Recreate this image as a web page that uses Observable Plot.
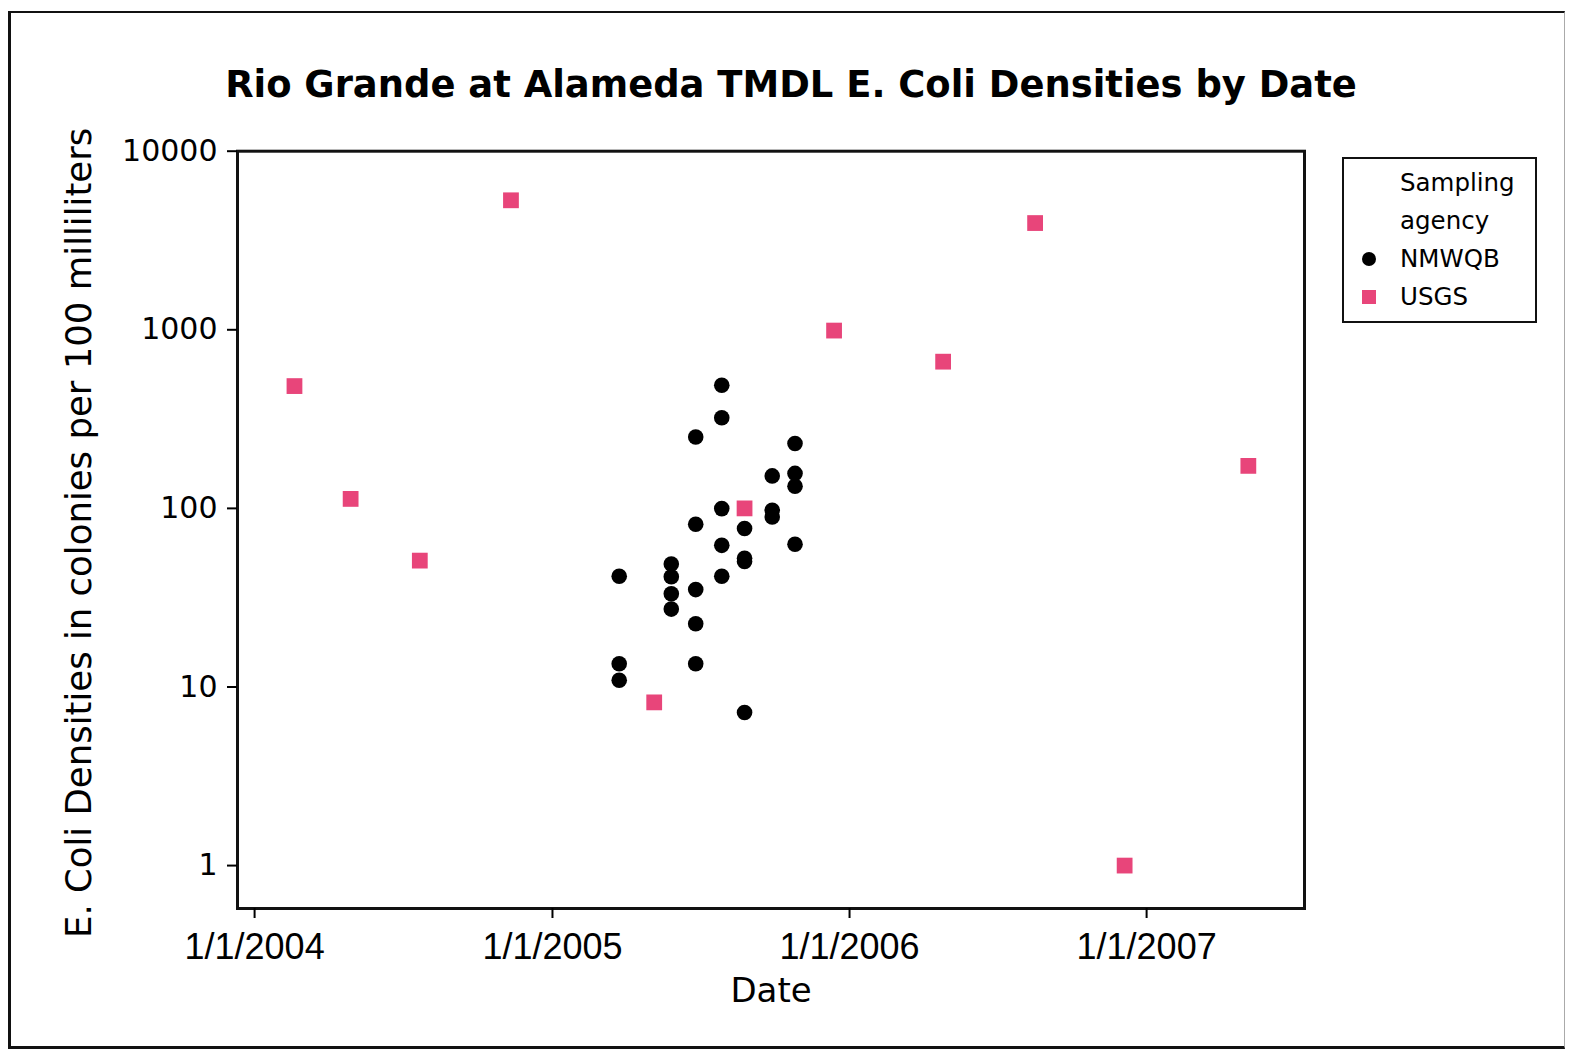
<!DOCTYPE html>
<html>
<head>
<meta charset="utf-8">
<script src="https://cdn.jsdelivr.net/npm/d3@7"></script>
<script src="https://cdn.jsdelivr.net/npm/@observablehq/plot@0.6"></script>
<style>
  html, body { margin: 0; padding: 0; background: #fff; }
  #page { position: relative; width: 1575px; height: 1054px; overflow: hidden; background: #fff; font-family: "DejaVu Sans", sans-serif; }
  #outer { position: absolute; left: 8px; top: 11px; width: 1553px; height: 1033px; z-index: 5; pointer-events: none;
           border-left: 3px solid #111; border-top: 2px solid #111; border-bottom: 3px solid #111; border-right: 1px solid #aaa; }
  #title { position: absolute; left: 0; top: 67px; width: 1582px; text-align: center; z-index: 2;
           font-family: "DejaVu Sans", sans-serif; font-weight: bold; font-size: 36.9px; line-height: 1; color: #000; white-space: nowrap; }
  #chart { position: absolute; left: 0; top: 120px; z-index: 1; }
  #legend { position: absolute; left: 1342px; top: 157px; width: 191px; height: 162px; border: 2px solid #111; background: #fff; z-index: 3; }
  .lg { position: absolute; left: 56px; font-size: 24.5px; line-height: 1; font-family: "DejaVu Sans", sans-serif; color: #000; white-space: nowrap; }
  .mk { position: absolute; }
</style>
</head>
<body>
<div id="page">
  <div id="chart"></div>
  <div id="title"></div>
  <div id="legend"></div>
  <div id="outer"></div>
</div>
<script>
// ---- Data ----
const titleText = "Rio Grande at Alameda TMDL E. Coli Densities by Date";
const xLabelText = "Date";
const yLabelText = "E. Coli Densities in colonies per 100 milliliters";
const legendTitle = ["Sampling", "agency"];
const groups = ["NMWQB", "USGS"];
const groupColors = ["#000000", "#e8457a"];

const yTicks = [1, 10, 100, 1000, 10000];
const xTickDates = ["2004-01-01", "2005-01-01", "2006-01-01", "2007-01-01"];
const xTickLabels = ["1/1/2004", "1/1/2005", "1/1/2006", "1/1/2007"];

const nmwqbDates = [
  "2005-03-24", "2005-03-24", "2005-03-24",
  "2005-05-27", "2005-05-27", "2005-05-27", "2005-05-27",
  "2005-06-26", "2005-06-26", "2005-06-26", "2005-06-26", "2005-06-26",
  "2005-07-28", "2005-07-28", "2005-07-28", "2005-07-28", "2005-07-28",
  "2005-08-25", "2005-08-25", "2005-08-25", "2005-08-25",
  "2005-09-28", "2005-09-28", "2005-09-28",
  "2005-10-26", "2005-10-26", "2005-10-26", "2005-10-26"
];
const nmwqbValues = [
  41.7, 13.5, 10.9,
  48.8, 41.4, 33.3, 27.3,
  251, 81.5, 35.1, 22.6, 13.5,
  489, 322, 99.7, 62.1, 41.7,
  77.1, 52.5, 50.5, 7.2,
  152, 97.6, 89.5,
  231, 157, 133, 63
];

const usgsDates = [
  "2004-02-19", "2004-04-28", "2004-07-22", "2004-11-11",
  "2005-05-06", "2005-08-25", "2005-12-13", "2006-04-26",
  "2006-08-17", "2006-12-05", "2007-05-06"
];
const usgsValues = [
  484, 113, 51, 5310,
  8.2, 100, 990, 663,
  3960, 1.0, 173
];

// ---- Build tables ----
const parse = d3.utcParse("%Y-%m-%d");
const nmwqb = nmwqbDates.map((d, i) => ({date: parse(d), value: nmwqbValues[i], agency: groups[0]}));
const usgs = usgsDates.map((d, i) => ({date: parse(d), value: usgsValues[i], agency: groups[1]}));
const xTicks = xTickDates.map(parse);
const xLabelMap = new Map(xTicks.map((d, i) => [+d, xTickLabels[i]]));

const svgHeight = 934;
const chart = Plot.plot({
  width: 1575,
  height: svgHeight,
  marginLeft: 237,
  marginRight: 271,
  marginTop: 30.7,
  marginBottom: 146,
  style: {fontFamily: "DejaVu Sans", background: "transparent", color: "black", overflow: "visible"},
  x: {type: "utc", domain: [parse("2003-12-11"), parse("2007-07-14")]},
  y: {type: "log", domain: [0.575, 10000]},
  marks: [
    Plot.frame({stroke: "#111", strokeWidth: 3}),
    Plot.axisY({ticks: yTicks, tickFormat: d => String(d), tickSize: 10, tickPadding: 10,
                fontSize: 30, strokeWidth: 2, label: null}),
    Plot.axisX({ticks: xTicks, tickFormat: d => xLabelMap.get(+d), tickSize: 10, tickPadding: 15,
                fontSize: 36, fontFamily: "Liberation Sans", strokeWidth: 2, label: null}),
    Plot.text([xLabelText], {text: d => d, frameAnchor: "bottom", dy: 83, fontSize: 34,
                lineAnchor: "middle", textAnchor: "middle", fill: "black"}),
    Plot.text([yLabelText], {text: d => d, frameAnchor: "left", dx: -158, dy: 3, rotate: -90,
                fontSize: 35.5, lineAnchor: "middle", textAnchor: "middle", fill: "black"}),
    Plot.dot(nmwqb, {x: "date", y: "value", r: 7.8, fill: groupColors[0], stroke: "none", symbol: "circle"}),
    Plot.dot(usgs, {x: "date", y: "value", r: 8.9, fill: groupColors[1], stroke: "none", symbol: "square"})
  ]
});
document.getElementById("chart").appendChild(chart);

document.getElementById("title").textContent = titleText;

// ---- Legend (HTML) ----
const legend = document.getElementById("legend");
const rowCenters = [24, 62, 100, 138];
legendTitle.forEach((t, i) => {
  const el = document.createElement("div");
  el.className = "lg";
  el.style.top = (rowCenters[i] - 12) + "px";
  el.textContent = t;
  legend.appendChild(el);
});
groups.forEach((g, i) => {
  const c = rowCenters[i + 2];
  const el = document.createElement("div");
  el.className = "lg";
  el.style.top = (c - 12) + "px";
  el.textContent = g;
  legend.appendChild(el);
  const mk = document.createElement("div");
  mk.className = "mk";
  const s = 14;
  mk.style.left = (25 - s / 2) + "px";
  mk.style.top = (c - s / 2) + "px";
  mk.style.width = s + "px";
  mk.style.height = s + "px";
  mk.style.background = groupColors[i];
  if (i === 0) mk.style.borderRadius = "50%";
  legend.appendChild(mk);
});
</script>
</body>
</html>
